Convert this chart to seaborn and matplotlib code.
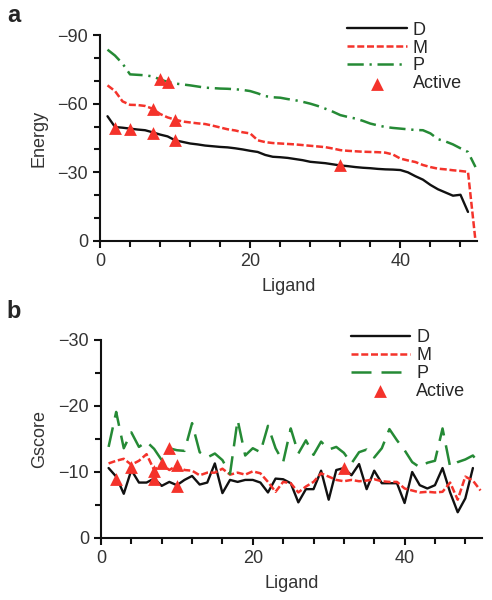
import numpy as np
import pandas as pd
import matplotlib
matplotlib.use("Agg")
import matplotlib.pyplot as plt
import seaborn as sns
from matplotlib.ticker import MultipleLocator

# =========================================================
# DATA
# =========================================================
ligand_50 = np.arange(1, 51)
ligand_49 = np.arange(1, 50)

# panel a: docking energy per ligand
energy_d = [-54.5, -49.8, -49.5, -49.1, -48.7, -48.4, -47.5, -46.5, -45.7, -44.0,
            -43.3, -42.6, -42.2, -41.7, -41.4, -41.1, -40.9, -40.5, -40.0, -39.4,
            -38.9, -37.6, -36.8, -36.6, -36.3, -35.8, -35.3, -34.6, -34.3, -34.0,
            -33.5, -33.0, -32.7, -32.3, -32.0, -31.8, -31.5, -31.3, -31.2, -31.0,
            -30.0, -28.3, -26.8, -24.5, -22.6, -21.2, -19.8, -20.2, -12.7]
energy_m = [-68.0, -65.5, -61.0, -59.5, -59.4, -59.0, -57.8, -55.5, -54.0, -53.0,
            -52.2, -51.8, -51.4, -51.1, -50.4, -49.6, -48.8, -48.3, -47.5, -47.0,
            -44.0, -43.2, -42.8, -42.6, -42.4, -42.2, -41.9, -41.6, -41.3, -41.0,
            -40.4, -39.7, -39.4, -39.2, -39.0, -38.9, -38.8, -38.6, -37.8, -36.0,
            -35.2, -34.5, -33.2, -32.3, -31.6, -31.3, -30.9, -30.6, -30.2, 0.0]
energy_p = [-83.6, -81.0, -77.5, -72.8, -72.6, -72.4, -71.9, -70.6, -69.5, -68.8,
            -68.4, -68.0, -67.5, -67.0, -66.8, -66.6, -66.5, -66.3, -66.0, -65.5,
            -64.5, -63.3, -62.8, -62.6, -62.0, -61.5, -60.8, -60.0, -59.0, -57.8,
            -56.5, -55.0, -54.2, -53.5, -52.5, -51.3, -50.5, -49.8, -49.4, -49.1,
            -48.8, -48.5, -48.4, -47.0, -44.5, -43.5, -42.2, -40.5, -38.9, -32.3]
active_a_lig = [2, 4, 7, 10, 32, 7, 10, 8, 9]
active_a_val = [-49.3, -49.1, -47.4, -44.0, -33.1, -57.8, -53.0, -70.6, -69.3]

# panel b: Gscore per ligand
gscore_d = [-10.6, -9.3, -6.7, -10.3, -8.4, -8.4, -9.0, -7.9, -8.5, -8.0,
            -8.8, -9.4, -8.1, -8.4, -11.3, -6.8, -8.8, -8.5, -8.8, -8.8,
            -8.4, -6.9, -9.0, -8.9, -8.3, -5.4, -7.4, -7.4, -10.2, -5.8,
            -10.3, -10.6, -9.5, -11.2, -7.4, -10.2, -8.3, -8.3, -8.3, -5.3,
            -10.0, -8.0, -7.5, -8.0, -10.6, -6.9, -3.9, -6.0, -10.6]
gscore_m = [-11.3, -11.7, -12.0, -11.1, -11.7, -12.7, -10.3, -11.2, -10.3, -11.0,
            -10.3, -10.2, -9.5, -9.9, -9.9, -10.5, -9.6, -9.9, -9.6, -10.1,
            -9.8, -8.5, -7.0, -8.5, -8.3, -6.9, -7.8, -8.5, -9.8, -9.3,
            -8.8, -8.6, -8.8, -8.6, -8.7, -8.9, -8.6, -8.5, -8.5, -7.5,
            -7.2, -6.9, -7.0, -6.9, -7.0, -8.4, -5.8, -9.3, -8.7, -7.2]
gscore_p = [-13.8, -19.1, -13.6, -16.0, -13.8, -14.6, -13.5, -11.8, -13.6, -13.3,
            -13.2, -17.4, -13.0, -12.2, -12.8, -11.8, -9.7, -17.9, -12.5, -13.6,
            -13.0, -17.0, -13.6, -11.5, -16.6, -12.8, -14.8, -12.6, -14.6, -13.4,
            -13.8, -12.9, -11.3, -13.0, -13.4, -12.2, -13.6, -16.5, -14.8, -13.3,
            -11.5, -10.7, -11.4, -11.7, -16.6, -10.8, -11.5, -11.9, -12.5, -11.0]
active_b_lig = [2, 4, 7, 7, 8, 9, 10, 10, 32]
active_b_val = [-9.0, -10.8, -9.0, -10.2, -11.3, -13.7, -11.0, -7.9, -10.6]

RED = "#f4332b"
GREEN = "#258a35"
BLACK = "#111111"

# =========================================================
# STYLE
# =========================================================
sns.set_theme(style="ticks")
plt.rcParams["font.family"] = ["Liberation Sans", "DejaVu Sans"]
plt.rcParams["axes.linewidth"] = 1.5
plt.rcParams["axes.edgecolor"] = BLACK

fig = plt.figure(figsize=(4.92, 6.0), dpi=100)
ax_a = fig.add_axes([100 / 492, 1 - 241 / 600, 377 / 492, 206 / 600])
ax_b = fig.add_axes([101 / 492, 1 - 538 / 600, 381 / 492, 198 / 600])


def draw_panel(ax, d_vals, m_vals, p_vals, act_x, act_y, p_style):
    sns.lineplot(x=ligand_49, y=d_vals, ax=ax, color=BLACK, lw=1.7,
                 label="D", estimator=None)
    sns.lineplot(x=ligand_50, y=m_vals, ax=ax, color=RED, lw=1.8,
                 linestyle=(0, (2.8, 1.1)), label="M", estimator=None)
    sns.lineplot(x=ligand_50, y=p_vals, ax=ax, color=GREEN, lw=1.8,
                 linestyle=p_style, label="P", estimator=None)
    sns.scatterplot(x=act_x, y=act_y, ax=ax, color=RED, marker="^", s=85,
                    linewidth=0, label="Active", zorder=5)


draw_panel(ax_a, energy_d, energy_m, energy_p, active_a_lig, active_a_val,
           (0, (6.5, 2.3, 0.9, 2.3)))
draw_panel(ax_b, gscore_d, gscore_m, gscore_p, active_b_lig, active_b_val,
           (0, (8, 4)))

for ax, ymax, major, minor, ylab, leg_y in [
    (ax_a, -90, 30, 10, "Energy", 1.065),
    (ax_b, -30, 10, 5, "Gscore", 1.055),
]:
    ax.set_xlim(0, 50.2)
    ax.set_ylim(0, ymax)
    ax.xaxis.set_major_locator(MultipleLocator(20))
    ax.xaxis.set_minor_locator(MultipleLocator(4))
    ax.yaxis.set_major_locator(MultipleLocator(major))
    ax.yaxis.set_minor_locator(MultipleLocator(minor))
    ax.tick_params(which="major", direction="out", length=5, width=1.5,
                   labelsize=13, colors=BLACK, labelcolor="#333333")
    ax.tick_params(which="minor", direction="out", length=4, width=1.5,
                   colors=BLACK)
    ax.set_xlabel("Ligand", fontsize=13, labelpad=6, color="#333333")
    ax.set_ylabel(ylab, fontsize=13, color="#333333")
    ax.yaxis.set_label_coords(-0.14, 0.5)
    sns.despine(ax=ax)
    ax.legend(loc="upper left", bbox_to_anchor=(0.655, leg_y), frameon=False,
              fontsize=13, handlelength=3.3, handletextpad=0.35,
              labelspacing=0.05, borderpad=0, borderaxespad=0, numpoints=1)

fig.text(0.014, 1 - 22 / 600, "a", fontsize=17, fontweight="bold",
         va="baseline", ha="left")
fig.text(0.014, 1 - 318 / 600, "b", fontsize=17, fontweight="bold",
         va="baseline", ha="left")

fig.savefig("out.png", dpi=100)
